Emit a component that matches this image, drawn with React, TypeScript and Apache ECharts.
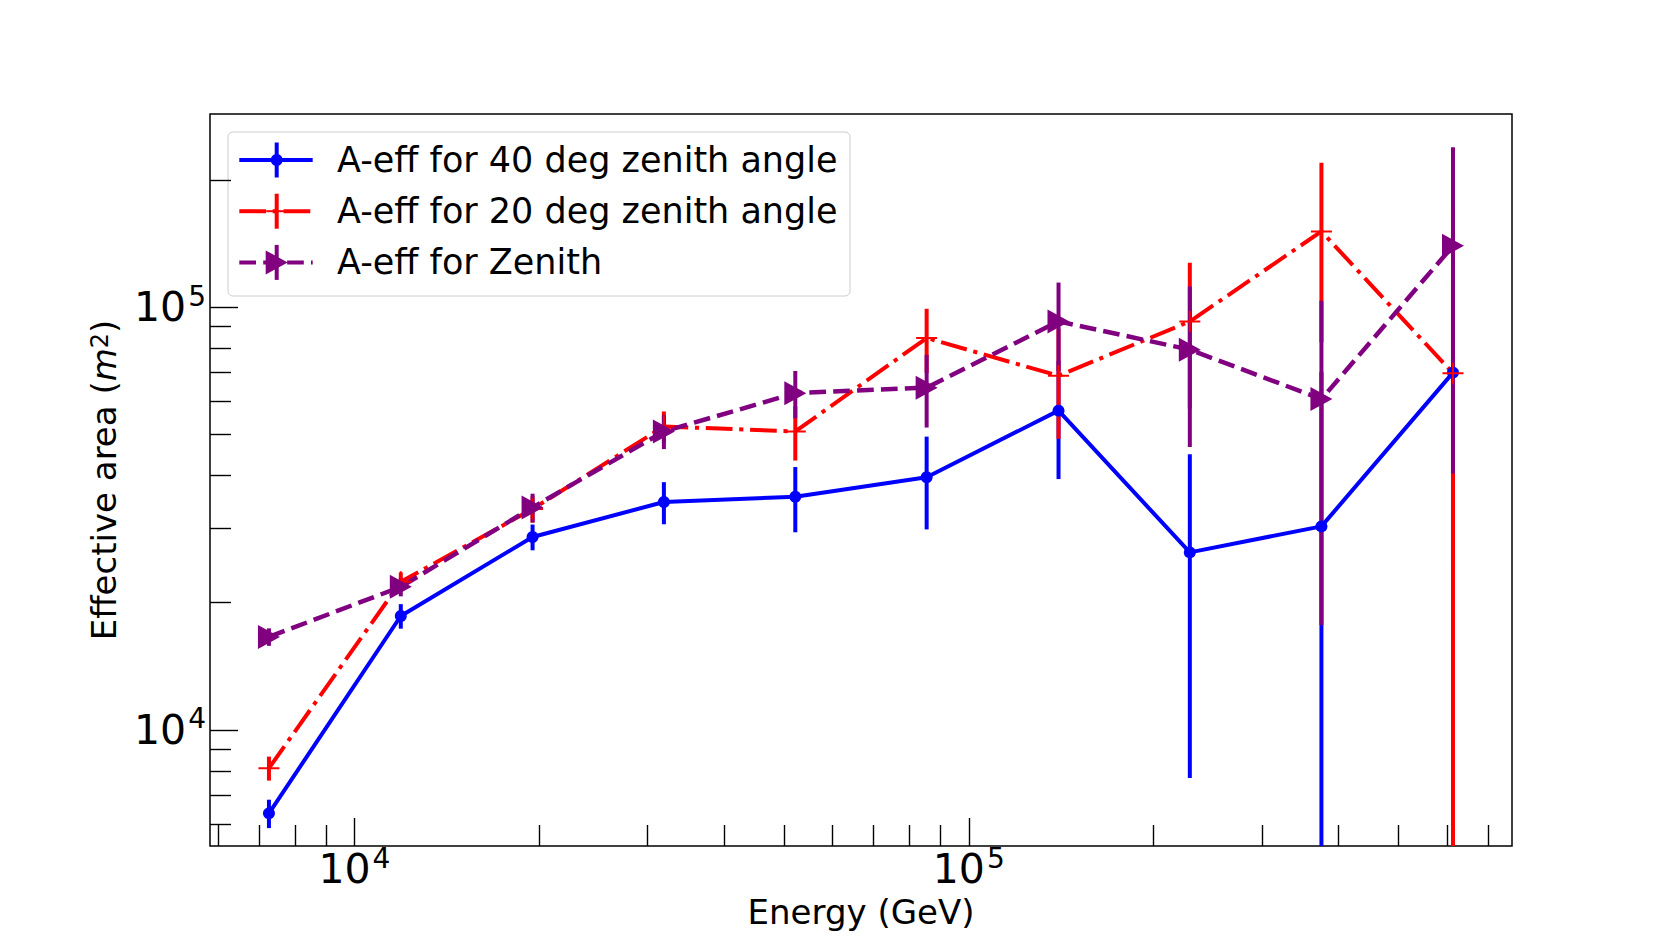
import React, { useEffect, useRef } from "react";
import * as echarts from "echarts";

// ---------- data ----------
const energyGeV = [7260, 11900, 19500, 31900, 52200, 85400, 140000, 229000, 375000, 614000];

const aeff40 = [6350, 18600, 28600, 34600, 35600, 39600, 56900, 26300, 30300, 70000];
const err40 = [490, 1240, 2000, 3950, 6260, 9800, 17700, 18600, 40000, 45000];

const aeff20 = [8120, 22400, 33300, 52200, 50800, 84500, 68800, 92500, 151000, 69800];
const err20 = [530, 1180, 2400, 4450, 7440, 14600, 20000, 34900, 68500, 100000];

const aeffZenith = [16600, 21800, 33600, 50800, 62600, 64500, 92500, 79300, 60600, 139600];
const errZenith = [790, 1100, 2600, 4650, 8030, 12600, 21800, 32600, 42900, 99200];

const seriesNames = [
  "A-eff for 40 deg zenith angle",
  "A-eff for 20 deg zenith angle",
  "A-eff for Zenith",
];

const xRange = [5821, 766000];
const yRange = [5316, 286200];
const xMajorTicks = [10000, 100000];
const xMinorTicks = [
  6000, 7000, 8000, 9000, 20000, 30000, 40000, 50000, 60000, 70000, 80000, 90000,
  200000, 300000, 400000, 500000, 600000, 700000,
];
const yMajorTicks = [10000, 100000];
const yMinorTicks = [
  6000, 7000, 8000, 9000, 20000, 30000, 40000, 50000, 60000, 70000, 80000, 90000, 200000,
];

// ---------- styles ----------
const FONT = "DejaVu Sans";
const BLUE = "#0000ff";
const RED = "#ff0000";
const PURPLE = "#800080";
const RED_DASH = [26.7, 6.7, 4.2, 6.7];
const PURPLE_DASH = [16.7, 7.2];
const GRID = { left: 210, top: 114, width: 1302, height: 732 };

function points(ys: number[]) {
  return energyGeV.map((x, i) => [x, ys[i]]);
}
function errRows(ys: number[], errs: number[]) {
  return energyGeV.map((x, i) => [x, Math.max(ys[i] - errs[i], 1), ys[i] + errs[i]]);
}

function errSeries(name: string, color: string, ys: number[], errs: number[]) {
  return {
    type: "custom",
    name,
    xAxisIndex: 0,
    yAxisIndex: 0,
    z: 2,
    silent: true,
    data: errRows(ys, errs),
    encode: { x: 0, y: [1, 2] },
    renderItem: (params: any, api: any) => {
      const x = api.value(0);
      const top = api.coord([x, api.value(2)]);
      const bot = api.coord([x, api.value(1)]);
      const cs = params.coordSys;
      const clampY = (y: number) => Math.max(cs.y, Math.min(cs.y + cs.height, y));
      return {
        type: "line",
        shape: { x1: top[0], y1: clampY(top[1]), x2: bot[0], y2: clampY(bot[1]) },
        style: { stroke: color, lineWidth: 4 },
      };
    },
  };
}

const powLabel = (v: number) => {
  const e = v > 50 ? Math.round(Math.log10(v)) : Math.round(v);
  return `{b|10}{s|${e}}`;
};
const tickRich = {
  b: { fontSize: 41, lineHeight: 40, fontFamily: FONT, color: "#000" },
  s: { fontSize: 28, lineHeight: 40, padding: [0, 0, 22, 2], fontFamily: FONT, color: "#000" },
};

function buildLegend() {
  const children: any[] = [
    {
      type: "rect",
      shape: { x: 228, y: 132, width: 622, height: 164, r: 5 },
      style: { fill: "rgba(255,255,255,0.8)", stroke: "#cccccc", lineWidth: 1 },
    },
  ];
  const colors = [BLUE, RED, PURPLE];
  const dashes: any[] = [null, RED_DASH, PURPLE_DASH];
  const mx = 276.7;
  seriesNames.forEach((name, i) => {
    const cy = 160 + i * 51.2;
    const c = colors[i];
    children.push({
      type: "line",
      shape: { x1: 239.3, y1: cy, x2: 312.7, y2: cy },
      style: { stroke: c, lineWidth: 4, lineDash: dashes[i] || undefined },
    });
    children.push({
      type: "line",
      shape: { x1: mx, y1: cy - 17.5, x2: mx, y2: cy + 17.5 },
      style: { stroke: c, lineWidth: 4 },
    });
    if (i === 0) {
      children.push({ type: "circle", shape: { cx: mx, cy, r: 6 }, style: { fill: c } });
    } else if (i === 1) {
      children.push({
        type: "line",
        shape: { x1: mx - 10.5, y1: cy, x2: mx + 10.5, y2: cy },
        style: { stroke: c, lineWidth: 2 },
      });
    } else {
      children.push({
        type: "polygon",
        shape: { points: [[mx - 11, cy - 12], [mx - 11, cy + 12], [mx + 11, cy]] },
        style: { fill: c },
      });
    }
    children.push({
      type: "text",
      x: 337,
      y: cy,
      style: {
        text: name,
        fontSize: 35,
        fontFamily: FONT,
        fill: "#000",
        align: "left",
        verticalAlign: "middle",
      },
    });
  });
  return [{ type: "group", z: 100, children }];
}

export default function App() {
  const ref = useRef<HTMLDivElement>(null);
  useEffect(() => {
    if (!ref.current) return;
    const chart = echarts.init(ref.current, undefined, { renderer: "svg" });
    const option: any = {
      animation: false,
      backgroundColor: "#ffffff",
      grid: [
        {
          ...GRID,
          show: true,
          borderColor: "#000",
          borderWidth: 1.5,
          backgroundColor: "transparent",
          outerBoundsMode: "none",
        },
        { ...GRID, show: false, outerBoundsMode: "none" },
      ],
      xAxis: [
        {
          type: "log",
          logBase: 10,
          gridIndex: 0,
          position: "bottom",
          min: xRange[0],
          max: xRange[1],
          axisLine: { show: false },
          splitLine: { show: false },
          axisTick: {
            show: true,
            inside: true,
            length: 28,
            customValues: xMajorTicks,
            lineStyle: { color: "#000", width: 1.4 },
          },
          axisLabel: {
            show: true,
            margin: 3,
            customValues: xMajorTicks,
            formatter: powLabel,
            rich: tickRich,
          },
          name: "Energy (GeV)",
          nameLocation: "middle",
          nameGap: 49,
          nameMoveOverlap: false,
          nameTextStyle: { fontSize: 34, fontFamily: FONT, color: "#000" },
        },
        {
          type: "log",
          logBase: 10,
          gridIndex: 1,
          position: "bottom",
          min: xRange[0],
          max: xRange[1],
          axisLine: { show: false },
          splitLine: { show: false },
          axisLabel: { show: false },
          axisTick: {
            show: true,
            inside: true,
            length: 21,
            customValues: xMinorTicks,
            lineStyle: { color: "#000", width: 1.4 },
          },
        },
      ],
      yAxis: [
        {
          type: "log",
          logBase: 10,
          gridIndex: 0,
          position: "left",
          min: yRange[0],
          max: yRange[1],
          axisLine: { show: false },
          splitLine: { show: false },
          axisTick: {
            show: true,
            inside: true,
            length: 28,
            customValues: yMajorTicks,
            lineStyle: { color: "#000", width: 1.4 },
          },
          axisLabel: {
            show: true,
            margin: 4,
            customValues: yMajorTicks,
            formatter: powLabel,
            rich: tickRich,
          },
          name: "{t|Effective area (}{i|m}{s|2}{t|)}",
          nameLocation: "middle",
          nameRotate: 90,
          nameGap: 86,
          nameMoveOverlap: false,
          nameTextStyle: {
            rich: {
              t: { fontSize: 34, lineHeight: 40, fontFamily: FONT, color: "#000" },
              i: { fontSize: 34, lineHeight: 40, fontFamily: FONT, fontStyle: "italic", color: "#000" },
              s: { fontSize: 24, lineHeight: 40, padding: [0, 0, 8, 0], fontFamily: FONT, color: "#000" },
            },
          },
        },
        {
          type: "log",
          logBase: 10,
          gridIndex: 1,
          position: "left",
          min: yRange[0],
          max: yRange[1],
          axisLine: { show: false },
          splitLine: { show: false },
          axisLabel: { show: false },
          axisTick: {
            show: true,
            inside: true,
            length: 21,
            customValues: yMinorTicks,
            lineStyle: { color: "#000", width: 1.4 },
          },
        },
      ],
      graphic: buildLegend(),
      series: [
        errSeries("err40", BLUE, aeff40, err40),
        errSeries("err20", RED, aeff20, err20),
        errSeries("errZenith", PURPLE, aeffZenith, errZenith),
        {
          type: "line",
          name: seriesNames[0],
          z: 3,
          xAxisIndex: 0,
          yAxisIndex: 0,
          data: points(aeff40),
          lineStyle: { color: BLUE, width: 4 },
          symbol: "circle",
          symbolSize: 12,
          itemStyle: { color: BLUE, borderWidth: 0 },
        },
        {
          type: "line",
          name: seriesNames[1],
          z: 3,
          xAxisIndex: 0,
          yAxisIndex: 0,
          data: points(aeff20),
          lineStyle: { color: RED, width: 4, type: RED_DASH },
          symbol: "path://M0,-1 L0,1 M-1,0 L1,0",
          symbolSize: 21,
          itemStyle: { color: "none", borderColor: RED, borderWidth: 2 },
        },
        {
          type: "line",
          name: seriesNames[2],
          z: 3,
          xAxisIndex: 0,
          yAxisIndex: 0,
          data: points(aeffZenith),
          lineStyle: { color: PURPLE, width: 4.5, type: PURPLE_DASH },
          symbol: "triangle",
          symbolRotate: -90,
          symbolSize: [24, 22],
          itemStyle: { color: PURPLE, borderWidth: 0 },
        },
      ],
    };
    chart.setOption(option);
    return () => chart.dispose();
  }, []);
  return (
    <div
      ref={ref}
      style={{ position: "fixed", left: 0, top: 0, width: "1680px", height: "951px", background: "#fff" }}
    />
  );
}
